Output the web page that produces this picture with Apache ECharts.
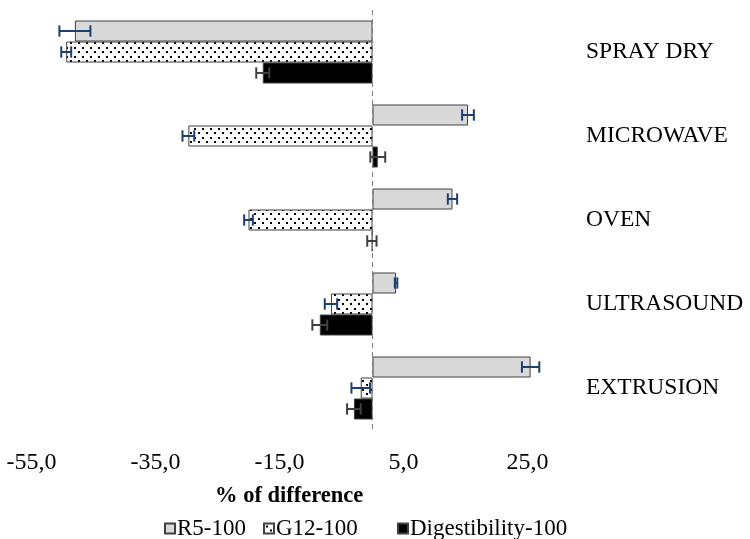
<!DOCTYPE html>
<html>
<head>
<meta charset="utf-8">
<script src="https://cdn.jsdelivr.net/npm/echarts@6/dist/echarts.min.js"></script>
<style>
  html, body { margin: 0; padding: 0; background: #fff; }
  #chart { width: 750px; height: 539px; }
</style>
</head>
<body>
<div id="chart"></div>
<script>
// Treatments, listed top to bottom
const categories = ['SPRAY DRY', 'MICROWAVE', 'OVEN', 'ULTRASOUND', 'EXTRUSION'];

// % of difference for each index, with error half-widths
const r5Values = [-48.0, 15.4, 12.9, 3.8, 25.5];
const r5Errors = [2.5, 0.95, 0.75, 0.2, 1.4];
const g12Values = [-49.4, -29.7, -20.0, -6.7, -1.9];
const g12Errors = [0.8, 0.95, 0.7, 1.0, 1.5];
const digValues = [-17.7, 0.85, -0.1, -8.5, -3.0];
const digErrors = [1.05, 1.2, 0.75, 1.2, 1.1];

// Value-axis labels
const xTickValues = [-55, -35, -15, 5, 25];

const seriesNames = ['R5-100', 'G12-100', 'Digestibility-100'];

const FONT = '"Liberation Serif", "Times New Roman", serif';

// Dotted fill for the G12 bars
function dotPattern() {
  const c = document.createElement('canvas');
  c.width = 8; c.height = 9;
  const ctx = c.getContext('2d');
  ctx.fillStyle = '#ffffff';
  ctx.fillRect(0, 0, 8, 9);
  ctx.fillStyle = '#000000';
  ctx.fillRect(2, 2, 2, 2);
  ctx.fillRect(6, 6, 2, 2);
  return c;
}

const CAT_GAP = 0.25;

function errorSeries(name, values, errors, idx, color) {
  return {
    name: name,
    type: 'custom',
    z: 5,
    data: values.map((v, i) => [i, v, errors[i]]),
    encode: { x: 1, y: 0 },
    renderItem: function (params, api) {
      const cat = api.value(0);
      const v = api.value(1);
      const e = api.value(2);
      const band = api.size([0, 1])[1];
      const barH = band * (1 - CAT_GAP) / 3;
      const off = (idx - 1) * barH;
      const a = api.coord([v - e, cat]);
      const b = api.coord([v + e, cat]);
      const y = a[1] + off;
      const cap = barH * 0.27;
      const style = { stroke: color, lineWidth: 2, fill: null };
      return {
        type: 'group',
        children: [
          { type: 'line', shape: { x1: a[0], y1: y, x2: b[0], y2: y }, style: style },
          { type: 'line', shape: { x1: a[0], y1: y - cap, x2: a[0], y2: y + cap }, style: style },
          { type: 'line', shape: { x1: b[0], y1: y - cap, x2: b[0], y2: y + cap }, style: style }
        ]
      };
    }
  };
}

// One legend entry per series, placed along a single row
const legendLefts = [164, 263, 397];
function legendEntry(name, left) {
  return {
    data: [name],
    left: left,
    top: 517,
    padding: 0,
    itemWidth: 10,
    itemHeight: 10,
    icon: 'rect',
    textStyle: { fontFamily: FONT, fontSize: 23, color: '#000', padding: [0, 0, 0, -3] }
  };
}

const chart = echarts.init(document.getElementById('chart'), null, { renderer: 'canvas' });

const barBorder = { borderColor: '#404040', borderWidth: 1 };

chart.setOption({
  animation: false,
  backgroundColor: '#ffffff',
  textStyle: { fontFamily: FONT, color: '#000' },
  grid: { left: 31.5, right: 191.5, top: 10, bottom: 109, containLabel: false },
  title: {
    text: '% of difference',
    left: 215,
    top: 485,
    padding: 0,
    textStyle: { fontFamily: FONT, fontSize: 22.5, fontWeight: 'bold', color: '#000' }
  },
  legend: seriesNames.map((n, i) => legendEntry(n, legendLefts[i])),
  xAxis: {
    type: 'value',
    min: -55,
    max: 30,
    splitLine: { show: false },
    axisLine: { show: false },
    axisTick: { show: false },
    axisLabel: {
      customValues: xTickValues,
      fontFamily: FONT,
      fontSize: 24,
      color: '#000',
      margin: 21,
      formatter: v => v.toFixed(1).replace('.', ',')
    }
  },
  yAxis: {
    type: 'category',
    data: categories,
    inverse: true,
    position: 'right',
    axisLine: { show: false },
    axisTick: { show: false },
    axisLabel: {
      fontFamily: FONT,
      fontSize: 23.5,
      color: '#000',
      margin: 27.5,
      align: 'left'
    }
  },
  series: [
    {
      name: seriesNames[0],
      type: 'bar',
      data: r5Values,
      barGap: '0%',
      barCategoryGap: '25%',
      itemStyle: Object.assign({ color: '#d9d9d9' }, barBorder),
      markLine: {
        silent: true,
        symbol: 'none',
        label: { show: false },
        lineStyle: { color: '#7f7f7f', type: [5, 4], width: 1 },
        data: [{ xAxis: 0 }]
      }
    },
    {
      name: seriesNames[1],
      type: 'bar',
      data: g12Values,
      barGap: '0%',
      barCategoryGap: '25%',
      itemStyle: Object.assign({ color: { image: dotPattern(), repeat: 'repeat' } }, barBorder)
    },
    {
      name: seriesNames[2],
      type: 'bar',
      data: digValues,
      barGap: '0%',
      barCategoryGap: '25%',
      itemStyle: Object.assign({ color: '#000000' }, barBorder)
    },
    errorSeries('r5err', r5Values, r5Errors, 0, '#1f3f6e'),
    errorSeries('g12err', g12Values, g12Errors, 1, '#1f3f6e'),
    errorSeries('digerr', digValues, digErrors, 2, '#404040')
  ]
});
</script>
</body>
</html>
